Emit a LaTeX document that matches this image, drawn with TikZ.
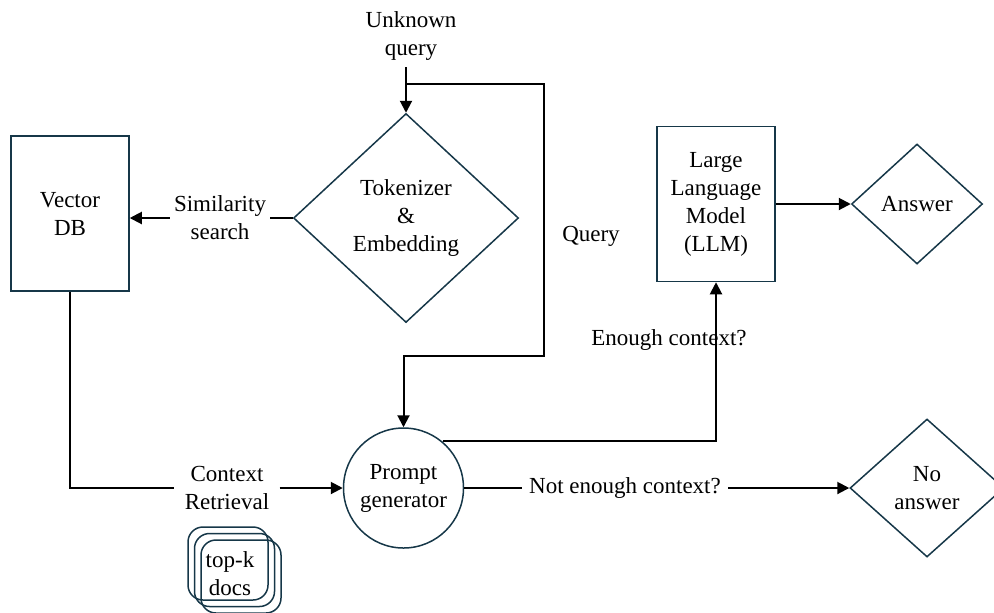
\documentclass[tikz,border=0pt]{standalone}
\usepackage{fontspec}
\setmainfont{Liberation Serif}
\usetikzlibrary{arrows.meta,shapes.geometric}
\definecolor{shapeline}{RGB}{22,55,72}
\begin{document}
\begin{tikzpicture}[x=0.5pt,y=-0.5pt,
  every node/.style={font=\fontsize{11.5}{14}\selectfont, align=center, inner sep=0pt},
  box/.style={draw=shapeline, line width=0.75pt, minimum width=59pt, minimum height=77.5pt},
  decision/.style={diamond, draw=shapeline, line width=0.75pt},
  flow/.style={draw=black, line width=1pt, -{Triangle[length=6pt,width=6pt]}},
  plain/.style={draw=black, line width=1pt},
  gap/.style={fill=white, inner xsep=2pt, inner ysep=1pt},
  docs/.style={draw=shapeline, line width=0.75pt, rounded corners=7.5pt}
]
\useasboundingbox (0,0) rectangle (994,612);

% main blocks
\node[box] (vdb) at (70,213.5) {Vector\\DB};
\node[decision, minimum width=112.5pt, minimum height=104.5pt] (tok) at (406,218) {Tokenizer\\\&\\Embedding};
\node (uq) at (411,36) {Unknown\\query};
\coordinate (qin) at (406,67);
\coordinate (split) at (406,84);
\coordinate (loop) at (544,356);
\node[circle, draw=shapeline, line width=0.75pt, minimum size=60pt] (pg) at (403.5,488) {Prompt\\generator};
\node[box] (llm) at (716,204) {Large\\Language\\Model\\(LLM)};
\node[decision, minimum width=65.5pt, minimum height=60pt] (ans) at (917,204) {Answer};
\node[decision, minimum width=77pt, minimum height=69pt] (noans) at (927,488) {No\\answer};

% connector labels
\node[gap] (sim) at (220,218) {Similarity\\search};
\node[gap, inner xsep=5pt] (ctx) at (227,488) {Context\\Retrieval};
\node[gap, inner xsep=3.5pt] (nec) at (625,488) {Not enough context?};
\node (ec) at (669,340) {Enough context?};
\node (qlab) at (591,236) {Query};

% connectors
\draw[flow] (qin) -- (tok.north);
\draw[flow] (split) -| (loop) -| (pg.north);
\draw[plain] (tok.west) -- (sim.east);
\draw[flow] (sim.west) -- (sim.west -| vdb.east);
\draw[plain] (vdb.south) |- (ctx.west);
\draw[flow] (ctx.east) -- (pg.west);
\draw[plain] (pg.east) -- (nec.west);
\draw[flow] (nec.east) -- (noans.west);
\draw[flow] (pg.50) -| (llm.south);
\draw[flow] (llm.east) -- (ans.west);

% stacked documents: three offset outlines
\foreach \k in {0,1,2}
  \draw[docs] (188+6.5*\k,527+6.5*\k) rectangle ++(80,73);
\node (topk) at (230,574) {top-k\\docs};
\end{tikzpicture}
\end{document}
